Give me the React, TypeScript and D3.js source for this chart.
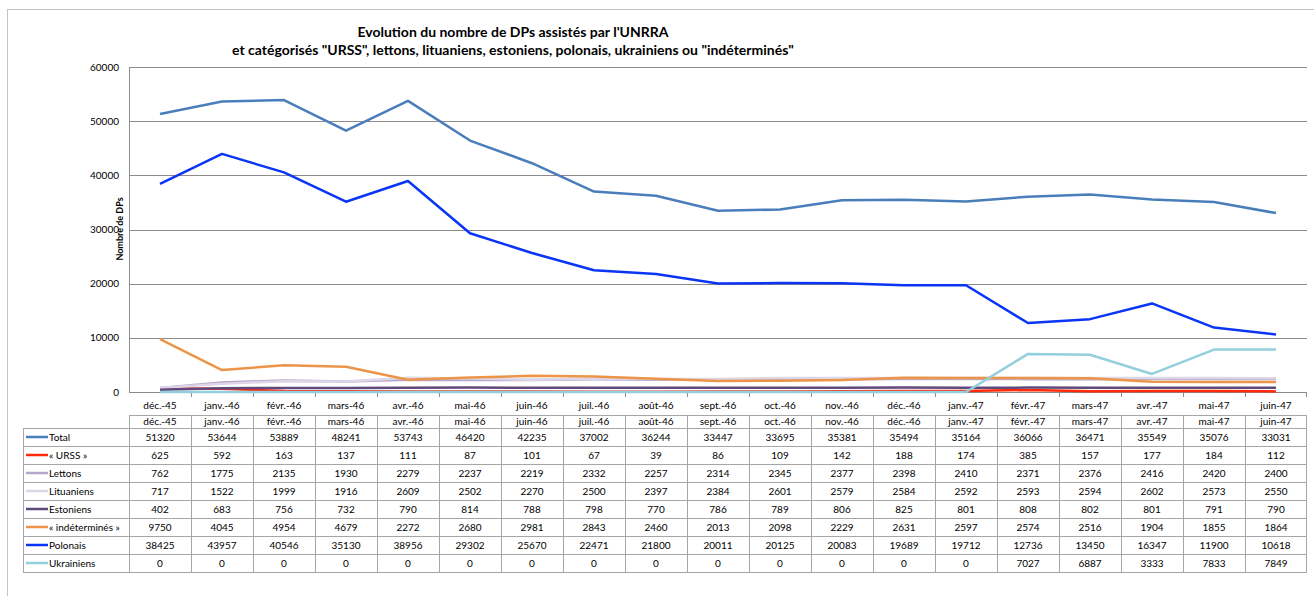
import React from 'react';
import { scaleBand, scaleLinear, line } from 'd3';

const months = [
  'déc.-45', 'janv.-46', 'févr.-46', 'mars-46', 'avr.-46', 'mai-46', 'juin-46',
  'juil.-46', 'août-46', 'sept.-46', 'oct.-46', 'nov.-46', 'déc.-46', 'janv.-47',
  'févr.-47', 'mars-47', 'avr.-47', 'mai-47', 'juin-47',
];

const total = [51320, 53644, 53889, 48241, 53743, 46420, 42235, 37002, 36244, 33447, 33695, 35381, 35494, 35164, 36066, 36471, 35549, 35076, 33031];
const urss = [625, 592, 163, 137, 111, 87, 101, 67, 39, 86, 109, 142, 188, 174, 385, 157, 177, 184, 112];
const lettons = [762, 1775, 2135, 1930, 2279, 2237, 2219, 2332, 2257, 2314, 2345, 2377, 2398, 2410, 2371, 2376, 2416, 2420, 2400];
const lituaniens = [717, 1522, 1999, 1916, 2609, 2502, 2270, 2500, 2397, 2384, 2601, 2579, 2584, 2592, 2593, 2594, 2602, 2573, 2550];
const estoniens = [402, 683, 756, 732, 790, 814, 788, 798, 770, 786, 789, 806, 825, 801, 808, 802, 801, 791, 790];
const indetermines = [9750, 4045, 4954, 4679, 2272, 2680, 2981, 2843, 2460, 2013, 2098, 2229, 2631, 2597, 2574, 2516, 1904, 1855, 1864];
const polonais = [38425, 43957, 40546, 35130, 38956, 29302, 25670, 22471, 21800, 20011, 20125, 20083, 19689, 19712, 12736, 13450, 16347, 11900, 10618];
const ukrainiens = [0, 0, 0, 0, 0, 0, 0, 0, 0, 0, 0, 0, 0, 0, 7027, 6887, 3333, 7833, 7849];

const yTicks = [0, 10000, 20000, 30000, 40000, 50000, 60000];

const series = [
  { name: 'Total', values: total, color: '#4a7ebb' },
  { name: '« URSS »', values: urss, color: '#ff2a0a' },
  { name: 'Lettons', values: lettons, color: '#b7a6cc' },
  { name: 'Lituaniens', values: lituaniens, color: '#dcd6e6' },
  { name: 'Estoniens', values: estoniens, color: '#5f4a7c' },
  { name: '« indéterminés »', values: indetermines, color: '#ec9549' },
  { name: 'Polonais', values: polonais, color: '#0a35f5' },
  { name: 'Ukrainiens', values: ukrainiens, color: '#93cfdd' },
];

const W = 1314;
const H = 596;
const left = 129;
const right = 1307;
const top = 67;
const bottom = 392;
const tableLeft = 23;
const headerTop = 415;
const rowTop = 428;
const rowH = 18;
const font = 'Lato, "Open Sans", sans-serif';

export default function App() {
  const x = scaleBand<string>().domain(months).range([left, right]);
  const y = scaleLinear().domain([0, 60000]).range([bottom, top]);
  const cx = (i: number) => (x(months[i]) as number) + x.bandwidth() / 2;
  const path = line<number>().x((_, i) => cx(i)).y((d) => y(d));
  const tableBottom = rowTop + rowH * series.length;
  const grid = '#8c8c8c';
  const cellLine = '#a6a6a6';

  return (
    <svg width={W} height={H} style={{ position: 'absolute', left: 0, top: 0, background: '#fff' }} fontFamily={font}>
      <rect x={7.5} y={9.5} width={W} height={H} fill="none" stroke="#c4c4c4" />

      <text x={513} y={37} textAnchor="middle" fontSize={14} fontWeight="bold">
        Evolution du nombre de DPs assistés par l'UNRRA
      </text>
      <text x={513} y={55} textAnchor="middle" fontSize={14} fontWeight="bold">
        et catégorisés "URSS", lettons, lituaniens, estoniens, polonais, ukrainiens ou "indéterminés"
      </text>

      {/* grid + y axis */}
      {yTicks.map((t) => (
        <g key={t}>
          <line x1={left} x2={right} y1={Math.round(y(t)) + 0.5} y2={Math.round(y(t)) + 0.5} stroke={grid} strokeWidth={1} />
          <text x={119} y={y(t) + 3.5} textAnchor="end" fontSize={10}>{t}</text>
        </g>
      ))}
      <line x1={left + 0.5} x2={left + 0.5} y1={top} y2={bottom} stroke={grid} />
      <text transform={`translate(123,229) rotate(-90)`} textAnchor="middle" fontSize={9} fontWeight="bold">
        Nombre de DPs
      </text>
      {months.map((m, i) => (
        <line key={m} x1={Math.round(x(m) as number) + 0.5 + (i === 0 ? 62 : 0)} x2={Math.round(x(m) as number) + 0.5 + (i === 0 ? 62 : 0)} y1={bottom} y2={bottom + 5} stroke={grid} />
      ))}
      <line x1={right - 0.5} x2={right - 0.5} y1={bottom} y2={bottom + 5} stroke={grid} />

      {/* lines */}
      {series.map((s) => (
        <path key={s.name} d={path(s.values) as string} fill="none" stroke={s.color} strokeWidth={2.5} strokeLinejoin="round" />
      ))}

      {/* category labels */}
      {months.map((m, i) => (
        <text key={m} x={cx(i)} y={409} textAnchor="middle" fontSize={10}>{m}</text>
      ))}

      {/* table header */}
      <line x1={left} x2={right} y1={headerTop + 0.5} y2={headerTop + 0.5} stroke={cellLine} />
      {months.map((m, i) => (
        <text key={m} x={cx(i)} y={headerTop + 10} textAnchor="middle" fontSize={10}>{m}</text>
      ))}

      {/* table rows */}
      {series.map((s, r) => {
        const ry = rowTop + r * rowH;
        return (
          <g key={s.name}>
            <line x1={tableLeft} x2={right} y1={ry + 0.5} y2={ry + 0.5} stroke={cellLine} />
            <line x1={26} x2={48} y1={ry + rowH / 2} y2={ry + rowH / 2} stroke={s.color} strokeWidth={2.5} />
            <text x={49} y={ry + 12.5} fontSize={10}>{s.name}</text>
            {s.values.map((v, i) => (
              <text key={i} x={cx(i)} y={ry + 12.5} textAnchor="middle" fontSize={10}>{v}</text>
            ))}
          </g>
        );
      })}
      <line x1={tableLeft} x2={right} y1={tableBottom + 0.5} y2={tableBottom + 0.5} stroke={cellLine} />
      <line x1={tableLeft + 0.5} x2={tableLeft + 0.5} y1={rowTop} y2={tableBottom} stroke={cellLine} />
      {months.map((m) => (
        <line key={m} x1={Math.round(x(m) as number) + 0.5} x2={Math.round(x(m) as number) + 0.5} y1={headerTop} y2={tableBottom} stroke={cellLine} />
      ))}
      <line x1={right - 0.5} x2={right - 0.5} y1={headerTop} y2={tableBottom} stroke={cellLine} />
    </svg>
  );
}
